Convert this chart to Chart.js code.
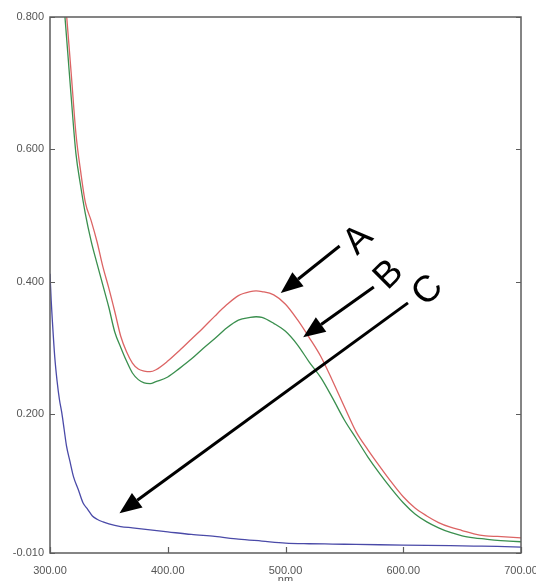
<!DOCTYPE html>
<html>
<head>
<meta charset="utf-8">
<script src="https://cdn.jsdelivr.net/npm/chart.js@4.4.1/dist/chart.umd.min.js"></script>
<style>
    html, body { margin: 0; padding: 0; background: #ffffff; }
    #wrap { width: 536px; height: 581px; }
</style>
</head>
<body>
<div id="wrap"><canvas id="spectrum" width="536" height="581"></canvas></div>
<script>
// Wavelengths (nm) shared by curves A and B
const wavelengthAB = [312, 315, 318, 322, 326, 330, 335, 340, 345, 350, 355, 360, 365, 370, 375, 380, 385, 390,
    400, 410, 420, 430, 440, 450, 460, 470, 475, 480, 490, 500, 510, 520, 530, 540, 550, 560, 570, 580, 590,
    600, 610, 620, 630, 640, 650, 660, 670, 680, 690, 700];
const absorbanceA = [0.849, 0.782, 0.715, 0.624, 0.567, 0.520, 0.492, 0.460, 0.422, 0.390, 0.355, 0.318, 0.294,
    0.277, 0.268, 0.265, 0.264, 0.267, 0.280, 0.296, 0.313, 0.330, 0.348, 0.365, 0.379, 0.385, 0.386, 0.385,
    0.380, 0.366, 0.343, 0.316, 0.287, 0.250, 0.211, 0.173, 0.146, 0.121, 0.097, 0.075, 0.058, 0.046, 0.036,
    0.029, 0.024, 0.019, 0.016, 0.015, 0.014, 0.013];
const absorbanceB = [0.816, 0.748, 0.679, 0.594, 0.545, 0.503, 0.461, 0.427, 0.394, 0.361, 0.324, 0.301, 0.280,
    0.262, 0.252, 0.247, 0.246, 0.249, 0.256, 0.269, 0.283, 0.299, 0.314, 0.330, 0.342, 0.346, 0.347, 0.346,
    0.337, 0.325, 0.305, 0.279, 0.255, 0.224, 0.191, 0.163, 0.135, 0.110, 0.087, 0.066, 0.049, 0.037, 0.028,
    0.021, 0.016, 0.013, 0.011, 0.009, 0.008, 0.007];

// Curve C has its own wavelength grid
const wavelengthC = [300, 301, 302, 304, 306, 308, 310, 312, 314, 317, 320, 324, 328, 332, 336, 340, 345, 350,
    360, 370, 385, 400, 420, 440, 460, 480, 500, 520, 540, 560, 580, 600, 620, 640, 660, 680, 700];
const absorbanceC = [0.412, 0.372, 0.341, 0.287, 0.250, 0.222, 0.202, 0.177, 0.152, 0.128, 0.105, 0.086, 0.066,
    0.056, 0.046, 0.041, 0.037, 0.034, 0.030, 0.028, 0.025, 0.022, 0.018, 0.015, 0.011, 0.008, 0.005, 0.004,
    0.0035, 0.003, 0.0025, 0.002, 0.0015, 0.001, 0.0005, 0.0, -0.001];

const xTicks = [300, 400, 500, 600, 700];
const yTicks = [-0.01, 0.2, 0.4, 0.6, 0.8];

// Annotation arrows and letters, placed in data units (nm, absorbance)
const arrows = [
    { from: [546, 0.454], to: [496, 0.383] },
    { from: [575, 0.392], to: [515, 0.316] },
    { from: [604, 0.368], to: [359, 0.050] }
];
const letters = [
    { text: "A", at: [562, 0.463] },
    { text: "B", at: [588, 0.410] },
    { text: "C", at: [621, 0.386] }
];

const toPoints = (xs, ys) => xs.map((x, i) => ({ x: x, y: ys[i] }));

// Box round the plot plus inward tick marks
const framePlugin = {
    id: "frame",
    afterDraw(chart) {
        const { ctx, chartArea: a, scales } = chart;
        ctx.save();
        ctx.strokeStyle = "#5c5c5c";
        ctx.lineWidth = 1.5;
        ctx.strokeRect(a.left, a.top, a.right - a.left, a.bottom - a.top);
        ctx.lineWidth = 1.2;
        ctx.beginPath();
        yTicks.forEach(v => {
            const y = Math.round(scales.y.getPixelForValue(v)) + 0.5;
            ctx.moveTo(a.left, y); ctx.lineTo(a.left + 5, y);
            ctx.moveTo(a.right, y); ctx.lineTo(a.right - 5, y);
        });
        xTicks.forEach(v => {
            const x = Math.round(scales.x.getPixelForValue(v)) + 0.5;
            ctx.moveTo(x, a.bottom); ctx.lineTo(x, a.bottom - 6);
        });
        ctx.stroke();
        ctx.restore();
    }
};

const arrowPlugin = {
    id: "arrows",
    afterDatasetsDraw(chart) {
        const { ctx, scales } = chart;
        const px = p => [scales.x.getPixelForValue(p[0]), scales.y.getPixelForValue(p[1])];
        ctx.save();
        ctx.strokeStyle = "#000";
        ctx.fillStyle = "#000";
        ctx.lineWidth = 3;
        arrows.forEach(arw => {
            const [x0, y0] = px(arw.from);
            const [x1, y1] = px(arw.to);
            const ang = Math.atan2(y1 - y0, x1 - x0);
            const headLen = 22, headW = 9;
            const bx = x1 - headLen * Math.cos(ang), by = y1 - headLen * Math.sin(ang);
            ctx.beginPath();
            ctx.moveTo(x0, y0);
            ctx.lineTo(bx, by);
            ctx.stroke();
            ctx.beginPath();
            ctx.moveTo(x1, y1);
            ctx.lineTo(bx + headW * Math.sin(ang), by - headW * Math.cos(ang));
            ctx.lineTo(bx - headW * Math.sin(ang), by + headW * Math.cos(ang));
            ctx.closePath();
            ctx.fill();
        });
        ctx.font = "37px 'Liberation Sans', Arial, sans-serif";
        ctx.textAlign = "center";
        ctx.textBaseline = "middle";
        letters.forEach(l => {
            const [x, y] = px(l.at);
            ctx.save();
            ctx.translate(x, y);
            ctx.rotate(-45 * Math.PI / 180);
            ctx.fillText(l.text, 0, 0);
            ctx.restore();
        });
        ctx.restore();
    }
};

document.addEventListener("DOMContentLoaded", () => {
    const tickFont = { family: "'Liberation Sans', Arial, sans-serif", size: 11 };

    const data = {
        datasets: [{
            label: "A",
            data: toPoints(wavelengthAB, absorbanceA),
            borderColor: "#dc6464",
            borderWidth: 1.3
        }, {
            label: "B",
            data: toPoints(wavelengthAB, absorbanceB),
            borderColor: "#3a8f4e",
            borderWidth: 1.3
        }, {
            label: "C",
            data: toPoints(wavelengthC, absorbanceC),
            borderColor: "#4a4aa8",
            borderWidth: 1.3
        }]
    };

    const config = {
        type: "line",
        data: data,
        options: {
            responsive: false,
            animation: false,
            layout: { padding: { top: 17, right: 15, left: 0, bottom: 0 } },
            elements: {
                point: { radius: 0 },
                line: { cubicInterpolationMode: "monotone", fill: false }
            },
            plugins: {
                legend: { display: false },
                tooltip: { enabled: false }
            },
            scales: {
                x: {
                    type: "linear",
                    min: 300,
                    max: 700,
                    grid: { display: false, drawTicks: false },
                    border: { display: false },
                    afterBuildTicks: s => { s.ticks = xTicks.map(v => ({ value: v })); },
                    afterFit: s => {
                        s.height = 28;
                        s.paddingLeft = 0;
                        s.paddingRight = 0;
                    },
                    ticks: {
                        padding: 11,
                        color: "#555",
                        font: tickFont,
                        maxRotation: 0,
                        callback: v => Number(v).toFixed(2)
                    },
                    title: {
                        display: true,
                        text: "nm",
                        color: "#555",
                        font: tickFont,
                        padding: { top: 0, bottom: -6 }
                    }
                },
                y: {
                    min: -0.01,
                    max: 0.8,
                    grid: { display: false, drawTicks: false },
                    border: { display: false },
                    afterBuildTicks: s => { s.ticks = yTicks.map(v => ({ value: v })); },
                    afterFit: s => {
                        s.width = 50;
                        s.paddingTop = 0;
                        s.paddingBottom = 0;
                    },
                    ticks: {
                        padding: 6,
                        color: "#555",
                        font: tickFont,
                        callback: v => Number(v).toFixed(3)
                    }
                }
            }
        },
        plugins: [framePlugin, arrowPlugin]
    };

    const ctx = document.getElementById("spectrum").getContext("2d");
    new Chart(ctx, config);
});
</script>
</body>
</html>
